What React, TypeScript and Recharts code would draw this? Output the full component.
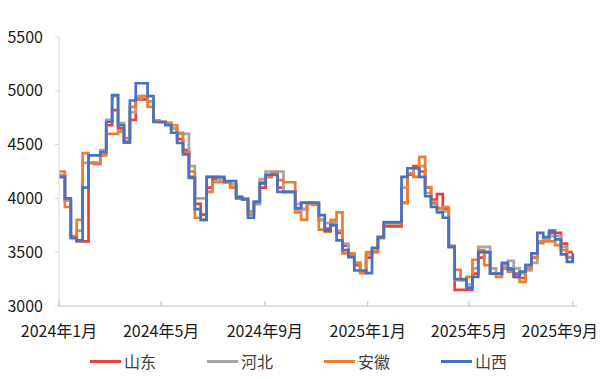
import { LineChart, Line, XAxis, YAxis, Legend } from "recharts";

// weekly prices (元/吨), one value per week starting 2024-01-01
const shandong = [
  4200, 3980, 3640, 3600, 3600, 4330, 4320, 4430, 4680, 4820,
  4650, 4520, 4730, 4920, 4920, 4900, 4720, 4710, 4700, 4650,
  4550, 4450, 4200, 3950, 3850, 4100, 4180, 4180, 4150, 4100,
  4000, 4000, 3880, 3950, 4100, 4200, 4220, 4100, 4060, 4060,
  3900, 3900, 3950, 3950, 3800, 3720, 3760, 3680, 3560, 3480,
  3380, 3320, 3450, 3500, 3640, 3740, 3740, 3740, 3960, 4220,
  4300, 4250, 4100, 3990, 4040, 3900, 3560, 3150, 3150, 3150,
  3300, 3450, 3500, 3300, 3300, 3380, 3350, 3300, 3260, 3380,
  3450, 3600, 3620, 3680, 3680, 3580, 3500, 3500,
];
const hebei = [
  4220, 3980, 3640, 3700, 4330, 4330, 4330, 4450, 4730, 4950,
  4700, 4530, 4800, 4950, 4950, 4900, 4720, 4710, 4700, 4650,
  4600, 4600, 4300, 4000, 4000, 4200, 4200, 4180, 4150, 4130,
  4020, 4000, 3880, 3950, 4180, 4250, 4250, 4250, 4060, 4060,
  3950, 3900, 3950, 3950, 3800, 3770, 3780, 3700, 3580, 3480,
  3400, 3310, 3480, 3510, 3640, 3770, 3770, 3770, 4100, 4230,
  4280, 4300, 4050, 3950, 3900, 3880, 3550, 3240, 3240, 3200,
  3350, 3550, 3550, 3350, 3300, 3380, 3420, 3350, 3300, 3330,
  3400, 3600, 3620, 3650, 3650, 3550, 3450, 3460,
];
const anhui = [
  4250, 3920, 3650, 3800, 4420, 4330, 4330, 4400, 4600, 4600,
  4620, 4560, 4850, 4930, 4950, 4850, 4720, 4710, 4700, 4680,
  4610, 4430, 4250, 3820, 3800, 4060, 4150, 4150, 4150, 4100,
  4010, 3990, 3850, 3960, 4150, 4200, 4240, 4170, 4150, 4150,
  3870, 3800, 3960, 3940, 3710, 3690, 3800, 3870, 3490, 3490,
  3400, 3305, 3500, 3510, 3630, 3770, 3770, 3770, 3955, 4230,
  4200, 4385, 4105, 3960, 3910, 3920, 3550, 3335, 3240, 3270,
  3430, 3520, 3380, 3300, 3270, 3350, 3320, 3270, 3225, 3350,
  3455, 3585, 3600, 3600, 3565, 3520, 3455, 3455,
];
const shanxi = [
  4200, 4000, 3630, 3610, 4100, 4400, 4400, 4430, 4710, 4960,
  4680, 4520, 4910, 5070, 5070, 4950, 4710, 4710, 4680, 4610,
  4515, 4410, 4190, 3900, 3800, 4200, 4200, 4200, 4160, 4160,
  4010, 3990, 3820, 3970, 4140, 4220, 4220, 4060, 4060, 4060,
  3910, 3960, 3960, 3960, 3845, 3700, 3750, 3610, 3520, 3455,
  3330, 3330, 3305, 3540, 3640, 3780, 3780, 3780, 4200, 4280,
  4280, 4200, 4020, 3920, 3870, 3820, 3550, 3250, 3250, 3170,
  3270, 3500, 3500, 3300, 3300, 3400, 3340, 3270, 3320, 3380,
  3490, 3680, 3640, 3700, 3620, 3480, 3410, 3490,
];

// month ticks, as day offsets from 2024-01-01
const tickDays = [0, 121, 244, 366, 486, 609];
const tickLabels = ["2024年1月", "2024年5月", "2024年9月", "2025年1月", "2025年5月", "2025年9月"];
const yTicks = [3000, 3500, 4000, 4500, 5000, 5500];

const series = [
  { key: "shandong", name: "山东", color: "#e8403f" },
  { key: "hebei", name: "河北", color: "#a5a5a5" },
  { key: "anhui", name: "安徽", color: "#ed7d31" },
  { key: "shanxi", name: "山西", color: "#4472c4" },
];

const data = shanxi.map((_, i) => ({
  day: i * 7,
  shandong: shandong[i],
  hebei: hebei[i],
  anhui: anhui[i],
  shanxi: shanxi[i],
}));

const FONT = '"Noto Sans CJK SC", "Noto Sans", sans-serif';

function XTick({ x, y, payload }: any) {
  const idx = tickDays.indexOf(payload.value);
  const last = idx === tickDays.length - 1;
  // last label would run past the right edge, so pin it to the edge
  return (
    <g>
      <line x1={x} x2={x} y1={y - 5} y2={y} stroke="#bfbfbf" />
      <text
        x={last ? 598 : x}
        y={y + 24}
        textAnchor={last ? "end" : "middle"}
        dominantBaseline="central"
        fontSize={16}
        fill="#1a1a1a"
        fontFamily={FONT}
      >
        {tickLabels[idx]}
      </text>
    </g>
  );
}

const renderLegend = () => (
  <div style={{ display: "flex", paddingLeft: 90, fontSize: 16, color: "#404040", lineHeight: "22px", fontFamily: FONT }}>
    {series.map((s) => (
      <div key={s.key} style={{ display: "flex", alignItems: "center", width: 117 }}>
        <span style={{ width: 31, height: 3, background: s.color, marginRight: 3 }} />
        <span>{s.name}</span>
      </div>
    ))}
  </div>
);

export default function App() {
  return (
    <div style={{ position: "absolute", left: 0, top: 0, width: 600, height: 379, background: "#fff", fontFamily: FONT }}>
      <LineChart width={600} height={379} data={data} margin={{ top: 37, right: 23, bottom: 0, left: 0 }}>
        <XAxis
          dataKey="day"
          type="number"
          domain={[0, 614]}
          ticks={tickDays}
          tick={<XTick />}
          tickLine={false}
          tickSize={0}
          tickMargin={0}
          height={73}
          axisLine={{ stroke: "#bfbfbf" }}
          interval={0}
        />
        <YAxis
          domain={[3000, 5500]}
          ticks={yTicks}
          width={59}
          tickSize={4}
          tickMargin={12}
          tick={{ fontSize: 16, fill: "#1a1a1a", fontFamily: FONT }}
          axisLine={{ stroke: "#d9d9d9" }}
          tickLine={{ stroke: "#d9d9d9" }}
        />
        <Legend
          layout="vertical"
          align="center"
          verticalAlign="middle"
          content={renderLegend}
          wrapperStyle={{ top: 350, left: 0, width: 600 }}
        />
        {series.map((s) => (
          <Line
            key={s.key}
            type="stepAfter"
            dataKey={s.key}
            name={s.name}
            stroke={s.color}
            strokeWidth={2.7}
            dot={false}
            isAnimationActive={false}
          />
        ))}
      </LineChart>
    </div>
  );
}
